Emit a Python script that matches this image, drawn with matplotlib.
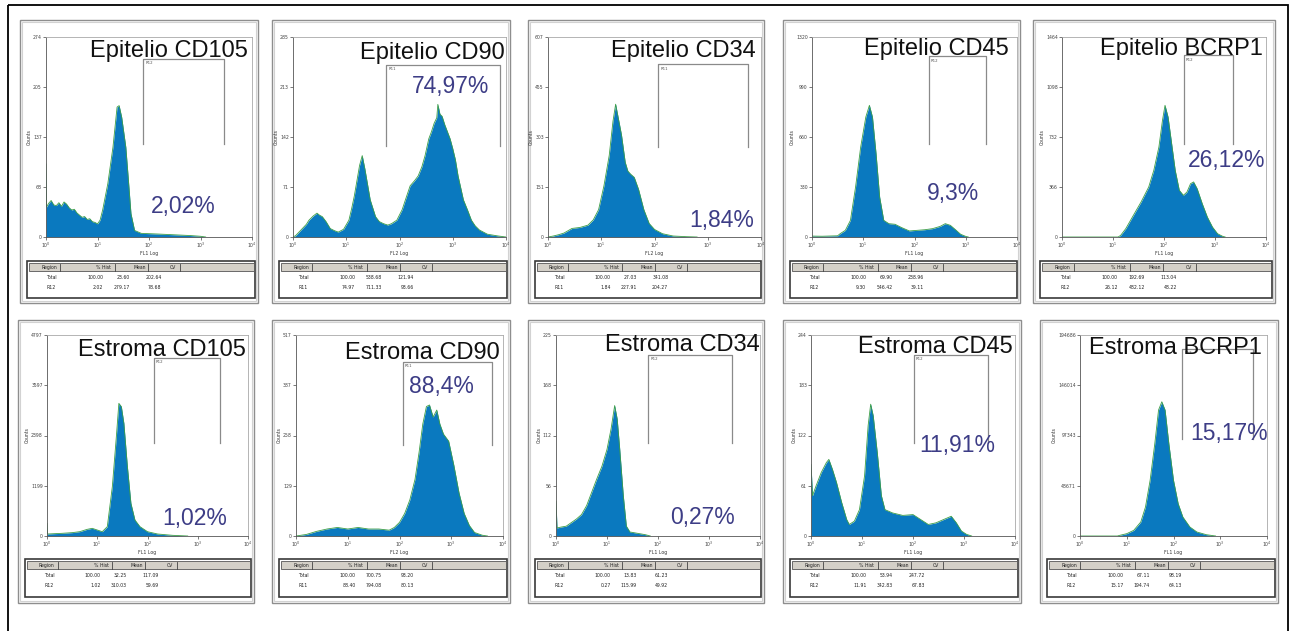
import numpy as np
import matplotlib
matplotlib.use('Agg')
import matplotlib.pyplot as plt
from matplotlib.patches import Rectangle


# ---- data ----
titles = ['Epitelio CD105', 'Epitelio CD90', 'Epitelio CD34', 'Epitelio CD45', 'Epitelio BCRP1',
          'Estroma CD105', 'Estroma CD90', 'Estroma CD34', 'Estroma CD45', 'Estroma BCRP1']
percent_labels = ['2,02%', '74,97%', '1,84%', '9,3%', '26,12%',
                  '1,02%', '88,4%', '0,27%', '11,91%', '15,17%']
y_max = [274, 285, 607, 1320, 1464, 4797, 517, 225, 244, 194686]
channels = ['FL1 Log', 'FL2 Log', 'FL2 Log', 'FL1 Log', 'FL1 Log',
            'FL1 Log', 'FL2 Log', 'FL1 Log', 'FL1 Log', 'FL1 Log']
gate_names = ['R12', 'R11', 'R11', 'R12', 'R12', 'R12', 'R11', 'R12', 'R12', 'R12']
# gate limits in decades of the log axis
gate_ranges = [(1.89, 3.45), (1.755, 3.89), (2.07, 3.75), (2.28, 3.40), (2.39, 3.35),
               (2.13, 3.44), (2.06, 3.79), (1.81, 3.46), (2.02, 3.48), (2.19, 3.70)]

# stats tables: (% Hist, Mean, CV)
total_stats = [('100.00', '23.60', '202.64'), ('100.00', '538.68', '121.94'),
               ('100.00', '27.03', '341.08'), ('100.00', '69.90', '238.96'),
               ('100.00', '192.69', '113.04'), ('100.00', '32.25', '117.09'),
               ('100.00', '700.75', '93.20'), ('100.00', '13.83', '61.23'),
               ('100.00', '53.94', '247.72'), ('100.00', '67.11', '98.19')]
gate_stats = [('2.02', '279.17', '78.68'), ('74.97', '711.33', '93.66'),
              ('1.84', '227.91', '204.27'), ('9.30', '546.42', '39.11'),
              ('26.12', '482.12', '48.22'), ('1.02', '310.03', '59.69'),
              ('88.40', '794.08', '80.13'), ('0.27', '115.99', '49.92'),
              ('11.91', '342.83', '67.83'), ('15.17', '194.74', '64.13')]

# histogram outlines: position in decades, counts
epi_cd105_log = [0, 0.01, 0.05, 0.1, 0.15, 0.2, 0.25, 0.3, 0.35, 0.4, 0.45, 0.5, 0.55, 0.6,
                 0.65, 0.7, 0.75, 0.8, 0.85, 0.9, 0.95, 1.0, 1.05, 1.1, 1.2, 1.3, 1.38, 1.42,
                 1.47, 1.55, 1.6, 1.65, 1.72, 1.85, 2.2, 2.8, 3.0, 3.1]
epi_cd105_counts = [100, 41, 46, 50, 44, 43, 47, 42, 48, 45, 40, 37, 38, 33,
                    30, 27, 28, 24, 25, 21, 20, 18, 23, 37, 73, 123, 178, 180,
                    164, 123, 78, 32, 9, 5, 4, 2, 1, 0]

epi_cd90_log = [0, 0.05, 0.15, 0.25, 0.3, 0.38, 0.45, 0.5, 0.55, 0.62, 0.7, 0.78, 0.85, 0.95,
                1.05, 1.1, 1.15, 1.2, 1.25, 1.3, 1.35, 1.4, 1.45, 1.55, 1.62, 1.7, 1.78, 1.85,
                1.95, 2.05, 2.12, 2.2, 2.28, 2.35, 2.42, 2.48, 2.55, 2.6, 2.65, 2.7, 2.72, 2.76,
                2.8, 2.85, 2.9, 2.95, 3.0, 3.05, 3.1, 3.15, 3.2, 3.28, 3.35, 3.42, 3.5, 3.65,
                3.85, 4.0]
epi_cd90_counts = [0, 2, 10, 18, 24, 30, 34, 31, 29, 22, 12, 9, 7, 11,
                   24, 40, 58, 80, 102, 116, 97, 75, 53, 29, 22, 19, 17, 19,
                   24, 39, 55, 73, 80, 87, 100, 116, 140, 150, 162, 170, 189, 175,
                   172, 160, 150, 140, 126, 110, 87, 70, 53, 38, 24, 16, 10, 4,
                   1.5, 0]

epi_cd34_log = [0, 0.1, 0.2, 0.3, 0.45, 0.6, 0.75, 0.85, 0.95, 1.05, 1.15, 1.22, 1.27, 1.32,
                1.38, 1.45, 1.5, 1.55, 1.62, 1.7, 1.8, 1.9, 2.0, 2.15, 2.35, 2.6, 2.8]
epi_cd34_counts = [0, 3, 7, 12, 26, 29, 36, 52, 83, 155, 248, 351, 403, 361,
                   310, 227, 200, 191, 181, 145, 83, 41, 23, 10, 3, 1, 0]

epi_cd45_log = [0, 0.2, 0.4, 0.5, 0.55, 0.65, 0.75, 0.85, 0.95, 1.05, 1.12, 1.18, 1.25, 1.32,
                1.4, 1.5, 1.62, 1.75, 1.9, 2.05, 2.2, 2.35, 2.5, 2.6, 2.7, 2.8, 2.9, 3.0, 3.05]
epi_cd45_counts = [6, 5, 7, 8, 22, 44, 110, 330, 594, 792, 869, 792, 550, 264,
                   110, 88, 84, 62, 40, 44, 48, 55, 70, 88, 77, 48, 18, 4, 0]

epi_bcrp1_log = [0, 1.1, 1.15, 1.25, 1.4, 1.55, 1.7, 1.8, 1.9, 1.97, 2.02, 2.08, 2.15, 2.22,
                 2.3, 2.38, 2.45, 2.52, 2.58, 2.65, 2.75, 2.85, 2.95, 3.05, 3.15, 3.2]
epi_bcrp1_counts = [0, 0, 12, 61, 159, 256, 366, 488, 659, 854, 964, 878, 683, 488,
                    342, 305, 329, 390, 403, 354, 244, 146, 73, 24, 5, 0]

est_cd105_log = [0, 0.01, 0.3, 0.5, 0.65, 0.8, 0.9, 1.0, 1.1, 1.2, 1.3, 1.38, 1.43, 1.48,
                 1.53, 1.6, 1.67, 1.75, 1.85, 2.0, 2.2, 2.5, 2.8]
est_cd105_counts = [300, 48, 64, 80, 103, 159, 183, 143, 103, 223, 1177, 2371, 3166, 3087,
                    2689, 1655, 780, 382, 223, 103, 48, 16, 0]

est_cd90_log = [0, 0.2, 0.4, 0.6, 0.8, 1.0, 1.2, 1.4, 1.6, 1.8, 1.9, 2.0, 2.1, 2.2, 2.3,
                2.38, 2.45, 2.52, 2.58, 2.65, 2.72, 2.78, 2.85, 2.95, 3.05, 3.15, 3.25, 3.35,
                3.45, 3.6, 3.7]
est_cd90_counts = [0, 4, 12, 18, 22, 18, 22, 18, 18, 15, 22, 35, 58, 93, 146,
                   217, 288, 333, 337, 306, 324, 288, 262, 244, 182, 111, 58, 27,
                   9, 2, 0]

est_cd34_log = [0, 0.02, 0.1, 0.2, 0.3, 0.4, 0.5, 0.6, 0.7, 0.8, 0.9, 1.0, 1.08, 1.15, 1.2,
                1.25, 1.32, 1.38, 1.45, 1.6, 1.75, 1.85]
est_cd34_counts = [39, 9, 10, 11, 15, 19, 24, 34, 49, 64, 78, 97, 120, 146, 131,
                   97, 45, 11, 4.5, 3, 1.5, 0]

est_cd45_log = [0, 0.03, 0.1, 0.2, 0.3, 0.35, 0.42, 0.5, 0.6, 0.7, 0.75, 0.85, 0.95, 1.05,
                1.12, 1.17, 1.22, 1.3, 1.38, 1.45, 1.6, 1.8, 2.0, 2.15, 2.3, 2.45, 2.6, 2.75,
                2.85, 2.95, 3.05, 3.15]
est_cd45_counts = [87, 49, 61, 77, 89, 93, 81, 65, 41, 20, 14, 18, 32, 73,
                   134, 160, 146, 101, 49, 32, 28, 25, 26, 20, 14, 16, 20, 24,
                   16, 6, 2, 0]

est_bcrp1_log = [0, 0.8, 0.85, 1.0, 1.15, 1.3, 1.4, 1.5, 1.6, 1.68, 1.75, 1.82, 1.9, 2.0,
                 2.1, 2.2, 2.35, 2.5, 2.7, 2.9]
est_bcrp1_counts = [0, 0, 650, 2264, 5500, 13580, 28000, 54000, 89600, 122000, 130000,
                    122000, 89600, 54000, 31300, 18400, 8730, 3880, 1290, 0]

hist_logs = [epi_cd105_log, epi_cd90_log, epi_cd34_log, epi_cd45_log, epi_bcrp1_log,
             est_cd105_log, est_cd90_log, est_cd34_log, est_cd45_log, est_bcrp1_log]
hist_counts = [epi_cd105_counts, epi_cd90_counts, epi_cd34_counts, epi_cd45_counts,
               epi_bcrp1_counts, est_cd105_counts, est_cd90_counts, est_cd34_counts,
               est_cd45_counts, est_bcrp1_counts]

# ---- layout in pixels ----
W, H = 1292, 631
frames_x = [(20, 258), (272, 510), (528, 764), (783, 1020), (1033, 1275),
            (18, 254), (272, 510), (528, 764), (783, 1021), (1040, 1278)]
axes_x = [(46, 252), (293, 506), (548, 761), (812, 1017), (1062, 1266),
          (47, 248), (296, 503), (556, 760), (811, 1015), (1080, 1267)]
row_frame_y = [(20, 303), (320, 603)]
row_axes_y = [(37, 237), (335, 536)]
row_table_y = [(261, 298), (559, 597)]
title_pos = [(248, 57), (505, 59), (756, 57), (1009, 55), (1263, 55),
             (246, 356), (500, 359), (760, 351), (1013, 353), (1262, 354)]
pct_pos = [(2.67, 0.15), (2.95, 0.75), (3.26, 0.085), (2.76, 0.217), (3.23, 0.383),
           (2.94, 0.088), (2.81, 0.743), (2.88, 0.091), (2.86, 0.449), (3.18, 0.51)]
gate_y = [(0.892, 0.467), (0.862, 0.456), (0.864, 0.45), (0.903, 0.463), (0.908, 0.463),
          (0.887, 0.461), (0.866, 0.455), (0.902, 0.465), (0.902, 0.465), (0.93, 0.485)]

fill_color = '#0a79bf'
edge_color = '#3c9e48'
pct_color = '#3d3d86'
font = 'Liberation Sans'
tiny = 3.3

fig = plt.figure(figsize=(W / 100, H / 100), dpi=100)
bg = fig.add_axes([0, 0, 1, 1])
bg.set_xlim(0, W)
bg.set_ylim(H, 0)
bg.axis('off')

# outer border (bottom edge runs off the picture)
bg.add_patch(Rectangle((8, 5), 1280, 640, fill=False, ec='black', lw=1.3))

for i in range(10):
    row = i // 5
    fx0, fx1 = frames_x[i]
    fy0, fy1 = row_frame_y[row]
    bg.add_patch(Rectangle((fx0, fy0), fx1 - fx0, fy1 - fy0, fill=False, ec='#8e8e8e', lw=1.0))
    bg.add_patch(Rectangle((fx0 + 2, fy0 + 2), fx1 - fx0 - 4, fy1 - fy0 - 4, fill=False,
                           ec='#d2d2d2', lw=0.8))

    # stats table
    tx0, tx1 = fx0 + 7, fx1 - 3
    ty0, ty1 = row_table_y[row]
    tw = tx1 - tx0
    bg.add_patch(Rectangle((tx0, ty0), tw, ty1 - ty0, fc='white', ec='#3a3a3a', lw=1.2))
    bg.add_patch(Rectangle((tx0 + 1.5, ty0 + 2), tw - 3, 8, fc='#d4d0c8', ec='#555555', lw=0.6))
    for f in [0.146, 0.386, 0.531, 0.672]:
        bg.plot([tx0 + f * tw] * 2, [ty0 + 2.5, ty0 + 9.5], color='#444444', lw=0.6)
    for f, txt in zip([0.131, 0.37, 0.52, 0.655], ['Region', '% Hist', 'Mean', 'CV']):
        bg.text(tx0 + f * tw, ty0 + 6.5, txt, ha='right', va='center', fontsize=tiny,
                color='#222222')
    for dy, name, vals in [(16.5, 'Total', total_stats[i]), (26.5, gate_names[i], gate_stats[i])]:
        bg.text(tx0 + 0.108 * tw, ty0 + dy, name, ha='center', va='center', fontsize=tiny,
                color='#222222')
        for f, v in zip([0.335, 0.451, 0.59], vals):
            bg.text(tx0 + f * tw, ty0 + dy, v, ha='right', va='center', fontsize=tiny,
                    color='#222222')

    # histogram
    ax0, ax1 = axes_x[i]
    ay0, ay1 = row_axes_y[row]
    ax = fig.add_axes([ax0 / W, 1 - ay1 / H, (ax1 - ax0) / W, (ay1 - ay0) / H])
    ax.set_xscale('log')
    ax.set_xlim(1, 1e4)
    ax.set_ylim(0, y_max[i])
    xs = 10 ** np.array(hist_logs[i], dtype=float)
    ys = np.array(hist_counts[i], dtype=float)
    ax.fill_between(xs, ys, color=fill_color, lw=0)
    ax.plot(xs, ys, color=edge_color, lw=0.6)

    yt = np.linspace(0, y_max[i], 5)
    ax.set_yticks(yt, [str(int(np.floor(v))) for v in yt])
    ax.set_xticks([1, 10, 100, 1000, 10000], [r'$10^{%d}$' % k for k in range(5)])
    ax.minorticks_off()
    ax.tick_params(labelsize=tiny, length=2, width=0.5, pad=1, colors='#444444')
    ax.set_ylabel('Counts', fontsize=tiny, labelpad=1, color='#333333')
    ax.set_xlabel(channels[i], fontsize=tiny, labelpad=0.5, color='#333333')
    for s in ['left', 'bottom']:
        ax.spines[s].set_color('#555555')
        ax.spines[s].set_linewidth(0.6)
    for s in ['top', 'right']:
        ax.spines[s].set_color('#a8a8a8')
        ax.spines[s].set_linewidth(0.6)

    # gate bracket
    g0, g1 = gate_ranges[i]
    gt, gb = gate_y[i]
    tr = ax.get_xaxis_transform()
    ax.plot([10 ** g0, 10 ** g0, 10 ** g1, 10 ** g1], [gb, gt, gt, gb], transform=tr,
            color='#8a8a8a', lw=0.9)
    ax.text(10 ** (g0 + 0.04), gt - 0.012, gate_names[i], transform=tr, fontsize=2.8,
            va='top', ha='left', color='#555555')

    ax.text(10 ** pct_pos[i][0], pct_pos[i][1], percent_labels[i], transform=tr,
            ha='center', va='center', fontsize=16.5, color=pct_color, family=font)

    fig.text(title_pos[i][0] / W, 1 - title_pos[i][1] / H, titles[i], ha='right',
             va='baseline', fontsize=17, family=font, color='#111111')

fig.savefig('out.png', dpi=100)
